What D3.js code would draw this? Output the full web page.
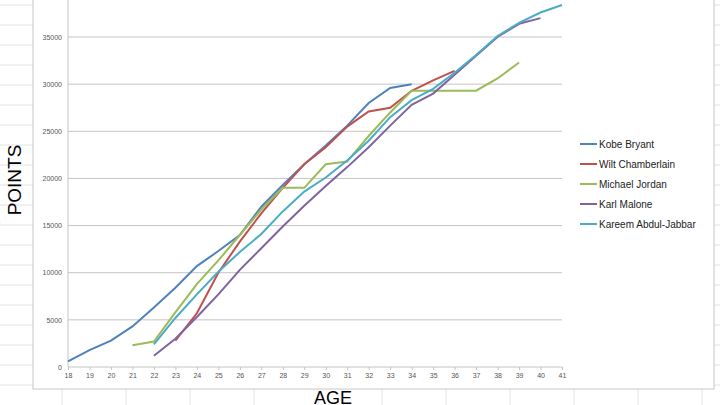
<!DOCTYPE html><html><head><script src="https://d3js.org/d3.v7.min.js"></script>
<style>body{margin:0;background:#fff}</style></head><body><svg id="c" width="720" height="405"></svg>
<script>
const ages=d3.range(18,42);
const seriesNames=["Kobe Bryant","Wilt Chamberlain","Michael Jordan","Karl Malone","Kareem Abdul-Jabbar"];
const colors=["#4F81BD","#C0504D","#9BBB59","#8064A2","#4BACC6"];
const kobeStart=18, kobe=[600,1800,2800,4300,6300,8400,10700,12300,14000,17000,19300,21500,23500,25600,28000,29600,30000];
const wiltStart=23, wilt=[2800,5700,10000,13300,16300,19000,21500,23300,25500,27100,27500,29300,30400,31400];
const jordanStart=21, jordan=[2300,2700,5800,8800,11300,14000,16700,19000,19000,21500,21800,24500,27000,29300,29300,29300,29300,30600,32300];
const maloneStart=22, malone=[1200,3000,5300,7700,10300,12600,14900,17100,19200,21200,23300,25600,27800,29000,31000,33000,35000,36400,37000];
const kareemStart=22, kareem=[2400,5200,7700,10100,12200,14100,16500,18600,20100,21900,24000,26500,28300,29500,31200,33100,35100,36500,37600,38400];
const yTicks=[0,5000,10000,15000,20000,25000,30000,35000];
const data=[[kobeStart,kobe],[wiltStart,wilt],[jordanStart,jordan],[maloneStart,malone],[kareemStart,kareem]];
const svg=d3.select("#c");
const bg=svg.append("g");
for(let x=-2;x<720;x+=64) bg.append("line").attr("x1",x).attr("x2",x).attr("y1",0).attr("y2",405).attr("stroke","#e2e2e2");
for(let y=5;y<405;y+=20) bg.append("line").attr("x1",0).attr("x2",720).attr("y1",y).attr("y2",y).attr("stroke","#e2e2e2");
svg.append("rect").attr("x",33).attr("y",-5).attr("width",681).attr("height",394).attr("fill","#fff").attr("stroke","#c8c8c8");
const x=d3.scaleLinear().domain([18,41]).range([68,562]);
const y=d3.scaleLinear().domain([0,35000]).range([367,37]);
const g=svg.append("g");
yTicks.slice(1).forEach(t=>g.append("line").attr("x1",68).attr("x2",562).attr("y1",y(t)).attr("y2",y(t)).attr("stroke","#c4c4c4"));
g.append("line").attr("x1",68).attr("x2",68).attr("y1",0).attr("y2",367).attr("stroke","#c4c4c4");
const xa=svg.append("g").attr("transform","translate(0,367)").call(d3.axisBottom(x).tickValues(ages).tickFormat(d3.format("d")).tickSize(3));
const ya=svg.append("g").attr("transform","translate(68,0)").call(d3.axisLeft(y).tickValues(yTicks).tickFormat(d3.format("d")).tickSize(0).tickPadding(6));
[xa,ya].forEach(a=>{a.selectAll("path,line").attr("stroke","#c4c4c4");a.selectAll("text").attr("fill","#555").style("font-family","Liberation Sans").style("font-size","7px");});
xa.select(".domain").remove(); xa.append("line").attr("x1",68).attr("x2",562).attr("stroke","#c4c4c4");
ya.select(".domain").remove();
const line=d3.line().x(d=>x(d[0])).y(d=>y(d[1]));
data.forEach(([s,v],i)=>{
  svg.append("path").datum(v.map((val,k)=>[s+k,val])).attr("d",line).attr("fill","none").attr("stroke",colors[i]).attr("stroke-width",2);
  const ly=144+i*20;
  svg.append("line").attr("x1",580).attr("x2",597).attr("y1",ly).attr("y2",ly).attr("stroke",colors[i]).attr("stroke-width",2);
  svg.append("text").attr("x",599).attr("y",ly+3.5).text(seriesNames[i]).style("font-family","Liberation Sans").style("font-size","10px").attr("fill","#222");
});
svg.append("text").attr("transform","translate(21,180) rotate(-90)").attr("text-anchor","middle").text("POINTS").style("font-family","Liberation Sans").style("font-size","19px");
svg.append("text").attr("x",333).attr("y",404).attr("text-anchor","middle").text("AGE").style("font-family","Liberation Sans").style("font-size","18px");
</script></body></html>
